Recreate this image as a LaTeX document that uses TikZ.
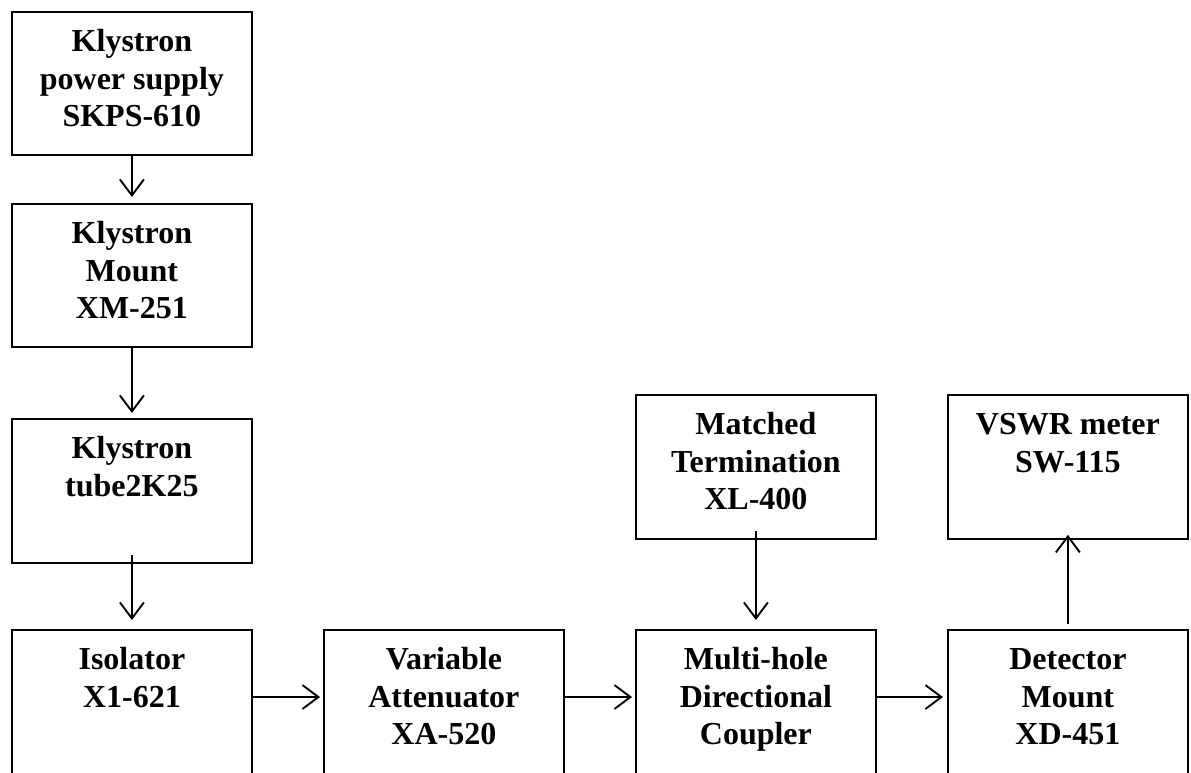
\documentclass[tikz,border=0pt]{standalone}
\usepackage{fontspec}
\setmainfont{Liberation Serif}
\usetikzlibrary{arrows.meta}
\newcommand\blktext[2]{\parbox[c][#1][t]{240pt}{\centering\rule{0pt}{40pt}#2}}
\tikzset{
  blk/.style={draw, line width=1.8pt, inner sep=0pt, anchor=north west,
    font=\fontsize{32pt}{37.5pt}\selectfont\bfseries},
  arr/.style={line width=1.9pt, -{Straight Barb[length=16pt,width=24pt]}},
}
\begin{document}
\begin{tikzpicture}[x=1pt,y=-1pt]
\useasboundingbox (0,0) rectangle (1191,772);
\clip (0,0) rectangle (1191,772);
\node[blk] (kps) at (11,11) {\blktext{143pt}{Klystron\\power supply\\SKPS-610}};
\node[blk] (km) at (11,203) {\blktext{143pt}{Klystron\\Mount\\XM-251}};
\node[blk] (kt) at (11,418) {\blktext{144pt}{Klystron\\tube2K25}};
\node[blk] (iso) at (11,629) {\blktext{170pt}{Isolator\\X1-621}};
\node[blk] (att) at (323,629) {\blktext{170pt}{Variable\\Attenuator\\XA-520}};
\node[blk] (dc) at (635,629) {\blktext{170pt}{Multi-hole\\Directional\\Coupler}};
\node[blk] (det) at (947,629) {\blktext{170pt}{Detector\\Mount\\XD-451}};
\node[blk] (mt) at (635,394) {\blktext{144pt}{Matched\\Termination\\XL-400}};
\node[blk] (vs) at (947,394) {\blktext{144pt}{VSWR meter\\SW-115}};
\draw[arr] (kps.south) -- ([yshift=6pt]km.north);
\draw[arr] (km.south) -- ([yshift=5pt]kt.north);
\draw[arr] ([yshift=9pt]kt.south) -- ([yshift=9pt]iso.north);
\draw[arr] ([yshift=-68pt]iso.north east) -- ([xshift=-3pt,yshift=-68pt]att.north west);
\draw[arr] ([yshift=-68pt]att.north east) -- ([xshift=-3pt,yshift=-68pt]dc.north west);
\draw[arr] ([yshift=-68pt]dc.north east) -- ([xshift=-4pt,yshift=-68pt]det.north west);
\draw[arr] ([yshift=9pt]mt.south) -- ([yshift=9pt]dc.north);
\draw[arr] ([yshift=5pt]det.north) -- ([yshift=5pt]vs.south);
\end{tikzpicture}
\end{document}
